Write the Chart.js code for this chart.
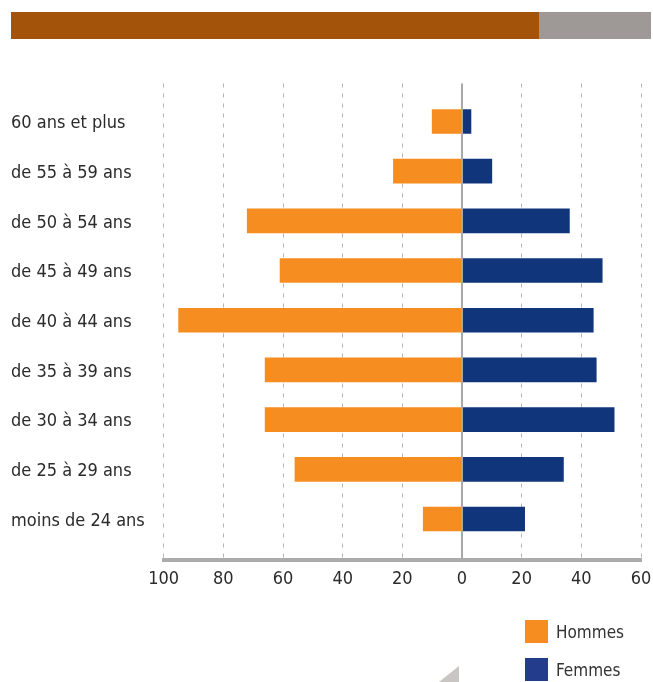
<!DOCTYPE html>
<html><head><meta charset="utf-8">
<script src="https://cdn.jsdelivr.net/npm/chart.js@4/dist/chart.umd.min.js"></script>
<style>
html,body{margin:0;padding:0;background:#fff;width:653px;height:682px;overflow:hidden;position:relative}
#c{position:absolute;left:0;top:0}
.band{position:absolute;top:12px;height:27px}
.lg{position:absolute;left:525px;height:23px;display:flex;align-items:center;font-family:"DejaVu Sans Condensed","DejaVu Sans",sans-serif;font-size:17px;color:#333}
.lg span.box{display:inline-block;width:23px;height:23px;margin-right:8px}
#tri{position:absolute;left:439px;top:666px;width:20px;height:16px;background:#C9C5C2;clip-path:polygon(100% 0,100% 100%,0 100%)}
</style></head><body>
<div class="band" style="left:11px;width:528px;background:#A3530A"></div>
<div class="band" style="left:539px;width:112px;background:#9E9896"></div>
<canvas id="c" width="653" height="682"></canvas>
<div id="legend"></div>
<div id="tri"></div>
<script>
const categories = ["60 ans et plus","de 55 à 59 ans","de 50 à 54 ans","de 45 à 49 ans","de 40 à 44 ans","de 35 à 39 ans","de 30 à 34 ans","de 25 à 29 ans","moins de 24 ans"];
const hommes = [10,23,72,61,95,66,66,56,13];
const femmes = [3,10,36,47,44,45,51,34,21];
const seriesNames = ["Hommes","Femmes"];
const seriesColors = ["#F58D20","#10357A"];
const legendColors = ["#F58D20","#233D8C"];
const xTicks = [-100,-80,-60,-40,-20,0,20,40,60];

const zeroLine = {
  id:'zeroLine',
  afterDatasetsDraw(chart){
    const {ctx, chartArea, scales} = chart;
    const x = scales.x.getPixelForValue(0);
    ctx.save();
    ctx.strokeStyle = '#A8A8A8';
    ctx.lineWidth = 2;
    ctx.beginPath();
    ctx.moveTo(x, chartArea.top);
    ctx.lineTo(x, chartArea.bottom);
    ctx.stroke();
    ctx.restore();
  }
};

new Chart(document.getElementById('c'), {
  type:'bar',
  data:{
    datasets:[
      {label:seriesNames[0], data:hommes.map((v,i)=>({x:-v,y:i})), backgroundColor:seriesColors[0], barThickness:24},
      {label:seriesNames[1], data:femmes.map((v,i)=>({x:v,y:i})), backgroundColor:seriesColors[1], barThickness:24}
    ]
  },
  options:{
    indexAxis:'y',
    responsive:false,
    animation:false,
    layout:{padding:{top:83.5,left:11,right:12,bottom:82}},
    plugins:{legend:{display:false},tooltip:{enabled:false}},
    scales:{
      x:{
        type:'linear', stacked:true, offset:false, min:-100, max:60,
        afterBuildTicks(s){ s.ticks = xTicks.map(v=>({value:v})); },
        afterFit(s){ s.height = 40; },
        grid:{drawTicks:true, tickLength:9, tickColor:'rgba(0,0,0,0)', color:(c)=> (c.tick && c.tick.value===0) ? 'rgba(0,0,0,0)' : '#B5B5B5', lineWidth:1},
        border:{display:true, color:'#ABABAB', width:4, dash:[4,6]},
        ticks:{padding:0, color:'#2B2B2B', font:{family:'"DejaVu Sans Condensed","DejaVu Sans",sans-serif', size:18}, callback:(v)=>Math.abs(v)}
      },
      y:{
        type:'linear', stacked:true, reverse:true, offset:false, min:-0.764, max:8.825,
        afterBuildTicks(s){ s.ticks = categories.map((c,i)=>({value:i})); },
        afterFit(s){ s.width = 152.7; },
        grid:{display:false, offset:false},
        border:{display:false},
        ticks:{autoSkip:false, crossAlign:'far', padding:0, labelOffset:2, color:'#2B2B2B', font:{family:'"DejaVu Sans Condensed","DejaVu Sans",sans-serif', size:18}, callback:(v)=>categories[v] ?? ''}
      }
    }
  },
  plugins:[zeroLine]
});

const lg = document.getElementById('legend');
const tops = [620, 658];
seriesNames.forEach((n,i)=>{
  const d = document.createElement('div');
  d.className='lg'; d.style.top = tops[i]+'px';
  d.innerHTML = '<span class="box" style="background:'+legendColors[i]+'"></span><span>'+n+'</span>';
  lg.appendChild(d);
});
</script>
</body></html>
